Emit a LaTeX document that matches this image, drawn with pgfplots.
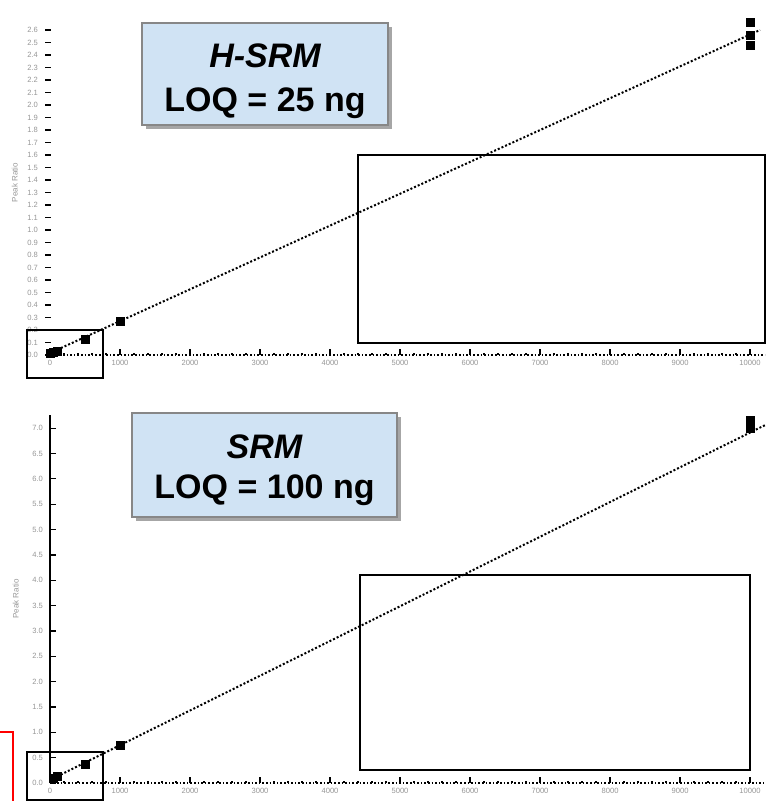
\documentclass[border=0pt]{standalone}
\usepackage{fontspec}
\setmainfont{Liberation Sans}
\usepackage{pgfplots}
\pgfplotsset{compat=1.18}
\definecolor{boxblue}{RGB}{208,227,244}
\definecolor{boxedge}{RGB}{135,135,135}
\definecolor{ticktxt}{RGB}{150,150,150}
\begin{document}
\begin{tikzpicture}
\useasboundingbox (0,0) rectangle (383pt,-400.5pt);
\pgfplotsset{
  common/.style={
    scale only axis,
    axis lines*=left,
    xmax=10214,
    xtick={0,1000,...,10000},
    scaled x ticks=false,
    minor x tick num=4,
    tick style={black, line width=0.6pt},
    major tick length=3pt, minor tick length=1.2pt,
    tick label style={font=\fontsize{3.8}{4}\selectfont, text=ticktxt},
    xticklabel style={yshift=1pt},
    /pgf/number format/assume math mode=true,
    /pgf/number format/1000 sep={},
    x axis line style={densely dotted, line width=0.8pt},
    ylabel={Peak Ratio},
    ylabel style={font=\fontsize{4}{4}\selectfont, text=ticktxt},
    clip=false,
  }
}
% ---------------- top: H-SRM
\begin{axis}[common,
  at={(22.5pt,-177.5pt)}, anchor=south west,
  width=360pt, height=172.5pt,
  xmin=-71.4, ymin=0, ymax=2.76,
  ytick={0,0.1,...,2.61},
  yticklabel style={/pgf/number format/.cd, fixed, fixed zerofill, precision=1},
  y axis line style={draw=none},
  ylabel style={yshift=-2pt},
]
\addplot[black, densely dotted, line width=1pt] coordinates {(0,0.016) (10143,2.60)};
\addplot[only marks, mark=square*, mark size=2pt, black] coordinates {
  (0,0.012) (50,0.018) (100,0.028) (500,0.125) (1000,0.27)
  (10000,2.66) (10000,2.56) (10000,2.48)};
\end{axis}
% ---------------- bottom: SRM
\begin{axis}[common,
  at={(25pt,-391.5pt)}, anchor=south west,
  width=357.5pt, height=184pt,
  xmin=0, ymin=0, ymax=7.26,
  ytick={0,0.5,...,7.01},
  yticklabel style={/pgf/number format/.cd, fixed, fixed zerofill, precision=1},
  y axis line style={line width=1pt},
]
\addplot[black, densely dotted, line width=1pt] coordinates {(0,0.06) (10214,7.06)};
\addplot[only marks, mark=square*, mark size=2pt, black] coordinates {
  (50,0.10) (100,0.13) (500,0.36) (1000,0.74)
  (10000,7.16) (10000,7.00)};
\end{axis}
% ---------------- annotations (pixel coordinates)
\begin{scope}[x=0.5pt, y=-0.5pt]
  % top label box
  \fill[black!35] (146,27) rectangle (392,129);
  \draw[boxedge, line width=1.2pt, fill=boxblue] (142,23) rectangle (388,125);
  \node[font=\fontsize{17}{20}\selectfont\bfseries\itshape, anchor=base] at (265,68) {H-SRM};
  \node[font=\fontsize{17}{20}\selectfont\bfseries, anchor=base] at (265,112) {LOQ = 25 ng};
  % bottom label box
  \fill[black!35] (136,417) rectangle (401,521);
  \draw[boxedge, line width=1.2pt, fill=boxblue] (132,413) rectangle (397,517);
  \node[font=\fontsize{17}{20}\selectfont\bfseries\itshape, anchor=base] at (264.5,458) {SRM};
  \node[font=\fontsize{17}{20}\selectfont\bfseries, anchor=base] at (264.5,498) {LOQ = 100 ng};
  % frames
  \draw[black, line width=1pt] (358,155) rectangle (765,343);
  \draw[black, line width=1pt] (27,330) rectangle (103,378);
  \draw[black, line width=1pt] (360,575) rectangle (750,770);
  \draw[black, line width=1pt] (27,752) rectangle (103,800);
  % red bracket
  \draw[red, line width=1pt] (0,732) -- (13,732) -- (13,801);
\end{scope}
\end{tikzpicture}
\end{document}
